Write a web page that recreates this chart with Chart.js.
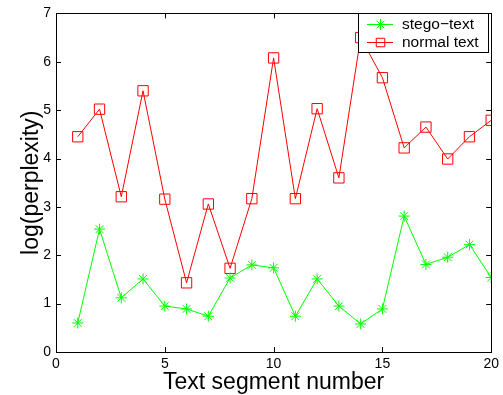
<!DOCTYPE html>
<html>
<head>
<meta charset="utf-8">
<script src="https://cdn.jsdelivr.net/npm/chart.js@4.4.1/dist/chart.umd.min.js"></script>
<style>
  html, body { margin: 0; padding: 0; background: #fff; }
  #wrap { width: 503px; height: 395px; }
</style>
</head>
<body>
<div id="wrap"><canvas id="perplexityChart" width="503" height="395"></canvas></div>
<script>
// values
const segments = [1, 2, 3, 4, 5, 6, 7, 8, 9, 10, 11, 12, 13, 14, 15, 16, 17, 18, 19, 20];
const stegoText = [0.60, 2.54, 1.12, 1.51, 0.95, 0.89, 0.74, 1.53, 1.80, 1.74,
                   0.74, 1.51, 0.95, 0.58, 0.89, 2.81, 1.81, 1.96, 2.22, 1.54];
const normalText = [4.45, 5.02, 3.21, 5.40, 3.16, 1.43, 3.06, 1.73, 3.17, 6.08,
                    3.17, 5.03, 3.60, 6.50, 5.67, 4.22, 4.65, 3.99, 4.45, 4.79];
const xTicks = [0, 5, 10, 15, 20];
const yTicks = [0, 1, 2, 3, 4, 5, 6, 7];

const FONT = "'Liberation Sans', Arial, Helvetica, sans-serif";

function toPoints(values) {
  return segments.map((s, i) => ({ x: s, y: values[i] }));
}

// box round the plot with short inward ticks on all four sides (matlab style)
const frameTicks = {
  id: "frameTicks",
  afterDatasetsDraw(chart) {
    const { ctx, chartArea: a, scales } = chart;
    const len = 5;
    ctx.save();
    ctx.strokeStyle = "#000";
    ctx.lineWidth = 1;
    ctx.beginPath();
    xTicks.forEach((v) => {
      const px = Math.round(scales.x.getPixelForValue(v)) + 0.5;
      ctx.moveTo(px, a.bottom); ctx.lineTo(px, a.bottom - len);
      ctx.moveTo(px, a.top); ctx.lineTo(px, a.top + len);
    });
    yTicks.forEach((v) => {
      const py = Math.round(scales.y.getPixelForValue(v)) + 0.5;
      ctx.moveTo(a.left, py); ctx.lineTo(a.left + len, py);
      ctx.moveTo(a.right, py); ctx.lineTo(a.right - len, py);
    });
    ctx.stroke();
    ctx.strokeRect(Math.round(a.left) + 0.5, Math.round(a.top) + 0.5,
      Math.round(a.right - a.left), Math.round(a.bottom - a.top));
    ctx.restore();
  },
};

// legend box inside the top right corner, drawn over the data
const boxLegend = {
  id: "boxLegend",
  afterDraw(chart) {
    const { ctx } = chart;
    const bx = 358, by = 13, bw = 130, bh = 39;
    ctx.save();
    ctx.fillStyle = "#fff";
    ctx.fillRect(bx, by, bw, bh);
    ctx.strokeStyle = "#000";
    ctx.lineWidth = 1;
    ctx.strokeRect(bx + 0.5, by + 0.5, bw, bh);
    chart.data.datasets.forEach((ds, i) => {
      const y = by + 11 + i * 18;
      ctx.strokeStyle = ds.borderColor;
      ctx.lineWidth = 1;
      ctx.beginPath();
      ctx.moveTo(367, y + 0.5);
      ctx.lineTo(393, y + 0.5);
      ctx.stroke();
      ctx.strokeStyle = ds.pointBorderColor;
      ctx.fillStyle = ds.pointBackgroundColor || ds.borderColor;
      Chart.helpers.drawPoint(ctx, {
        pointStyle: ds.pointStyle,
        radius: ds.pointStyle === "rect" ? 6 : ds.pointRadius,
        borderWidth: 1,
        rotation: 0,
      }, 380.5, y + 0.5);
      ctx.fillStyle = "#000";
      ctx.font = `15.5px ${FONT}`;
      ctx.textBaseline = "middle";
      ctx.textAlign = "left";
      ctx.fillText(ds.label, 402, y + 1);
    });
    ctx.restore();
  },
};

new Chart(document.getElementById("perplexityChart"), {
  type: "line",
  data: {
    datasets: [
      {
        label: "stego\u2212text",
        data: toPoints(stegoText),
        borderColor: "#00ff00",
        backgroundColor: "#00ff00",
        borderWidth: 1,
        pointStyle: "star",
        pointRadius: 5.5,
        pointBorderWidth: 1,
        pointBorderColor: "#00ff00",
        pointBackgroundColor: "#00ff00",
        tension: 0,
      },
      {
        label: "normal text",
        data: toPoints(normalText),
        borderColor: "#ff0000",
        backgroundColor: "rgba(0,0,0,0)",
        borderWidth: 1,
        pointStyle: "rect",
        pointRadius: 7.3,
        pointBorderWidth: 1,
        pointBorderColor: "#ff0000",
        pointBackgroundColor: "rgba(0,0,0,0)",
        tension: 0,
      },
    ],
  },
  options: {
    responsive: false,
    animation: false,
    layout: { padding: { top: 7, right: 10, left: 0, bottom: 0 } },
    plugins: { legend: { display: false }, tooltip: { enabled: false } },
    scales: {
      x: {
        type: "linear",
        min: 0,
        max: 20,
        afterFit: (s) => { s.height = 43; },
        afterBuildTicks: (s) => { s.ticks = xTicks.map((v) => ({ value: v })); },
        grid: { display: false, drawTicks: false },
        border: { display: false },
        ticks: { color: "#000", font: { family: FONT, size: 14 }, padding: 4, maxRotation: 0 },
        title: {
          display: true,
          text: "Text segment number",
          color: "#000",
          font: { family: FONT, size: 23, lineHeight: 1.1 },
          padding: { top: 0, bottom: 0 },
        },
      },
      y: {
        min: 0,
        max: 7,
        afterFit: (s) => { s.width = 56; },
        afterBuildTicks: (s) => { s.ticks = yTicks.map((v) => ({ value: v })); },
        grid: { display: false, drawTicks: false },
        border: { display: false },
        ticks: { color: "#000", font: { family: FONT, size: 14 }, padding: 5 },
        title: {
          display: true,
          text: "log(perplexity)",
          color: "#000",
          font: { family: FONT, size: 23, lineHeight: 1.1 },
          padding: { top: 19, bottom: 0 },
        },
      },
    },
  },
  plugins: [frameTicks, boxLegend],
});
</script>
</body>
</html>
